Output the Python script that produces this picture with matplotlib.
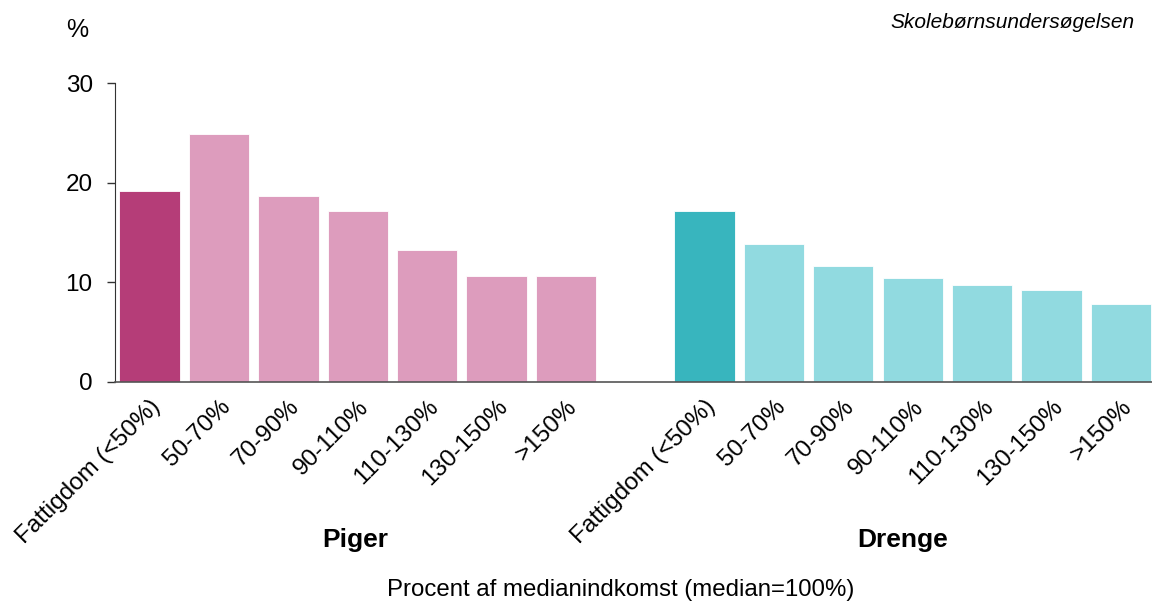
import numpy as np
import matplotlib.pyplot as plt

plt.rcParams['font.family'] = ['Liberation Sans', 'DejaVu Sans']

categories = ["Fattigdom (<50%)", "50-70%", "70-90%", "90-110%", "110-130%", "130-150%", ">150%"]
piger = [19.2, 24.9, 18.7, 17.2, 13.2, 10.6, 10.6]
drenge = [17.2, 13.8, 11.6, 10.4, 9.7, 9.2, 7.8]
groups = ["Piger", "Drenge"]

pink_dark, pink_light = "#B53D78", "#DD9CBD"
teal_dark, teal_light = "#38B5BE", "#91DAE0"

fig = plt.figure(figsize=(11.52, 6.05), dpi=100)
ax = fig.add_axes([0.0998, 0.3686, 0.9002, 0.4942])

n = len(categories)
x_p = np.arange(n)
x_d = np.arange(n) + n + 1
w = 0.87

ax.bar(x_p, piger, width=w, color=[pink_dark] + [pink_light] * (n - 1),
       edgecolor="white", linewidth=0.6)
ax.bar(x_d, drenge, width=w, color=[teal_dark] + [teal_light] * (n - 1),
       edgecolor="white", linewidth=0.6)

ax.set_xlim(-0.5, x_d[-1] + 0.45)
ax.set_ylim(0, 30)
ax.set_yticks([0, 10, 20, 30])
ax.tick_params(axis='y', labelsize=17.5, length=6, width=1, color="#333333", pad=10)

ax.set_xticks(np.concatenate([x_p, x_d]))
ax.set_xticklabels(categories + categories, rotation=45, ha='right',
                   rotation_mode='anchor', fontsize=17.5)
ax.tick_params(axis='x', length=0, pad=10)

for s in ['top', 'right']:
    ax.spines[s].set_visible(False)
ax.spines['left'].set_color("#333333")
ax.spines['bottom'].set_color("#555555")
ax.spines['bottom'].set_linewidth(1.2)

fig.text(0.067, 0.95, "%", fontsize=18, ha='center', va='center')
fig.text(0.985, 0.962, "Skolebørnsundersøgelsen", fontsize=15, style='italic',
         ha='right', va='center')

fig.text(355 / 1152, 1 - 540 / 605, groups[0], fontsize=19, fontweight='bold',
         ha='center', va='center')
fig.text(903 / 1152, 1 - 540 / 605, groups[1], fontsize=19, fontweight='bold',
         ha='center', va='center')
fig.text(621 / 1152, 1 - 590 / 605, "Procent af medianindkomst (median=100%)",
         fontsize=17.3, ha='center', va='center')

fig.savefig("out.png", dpi=100)
